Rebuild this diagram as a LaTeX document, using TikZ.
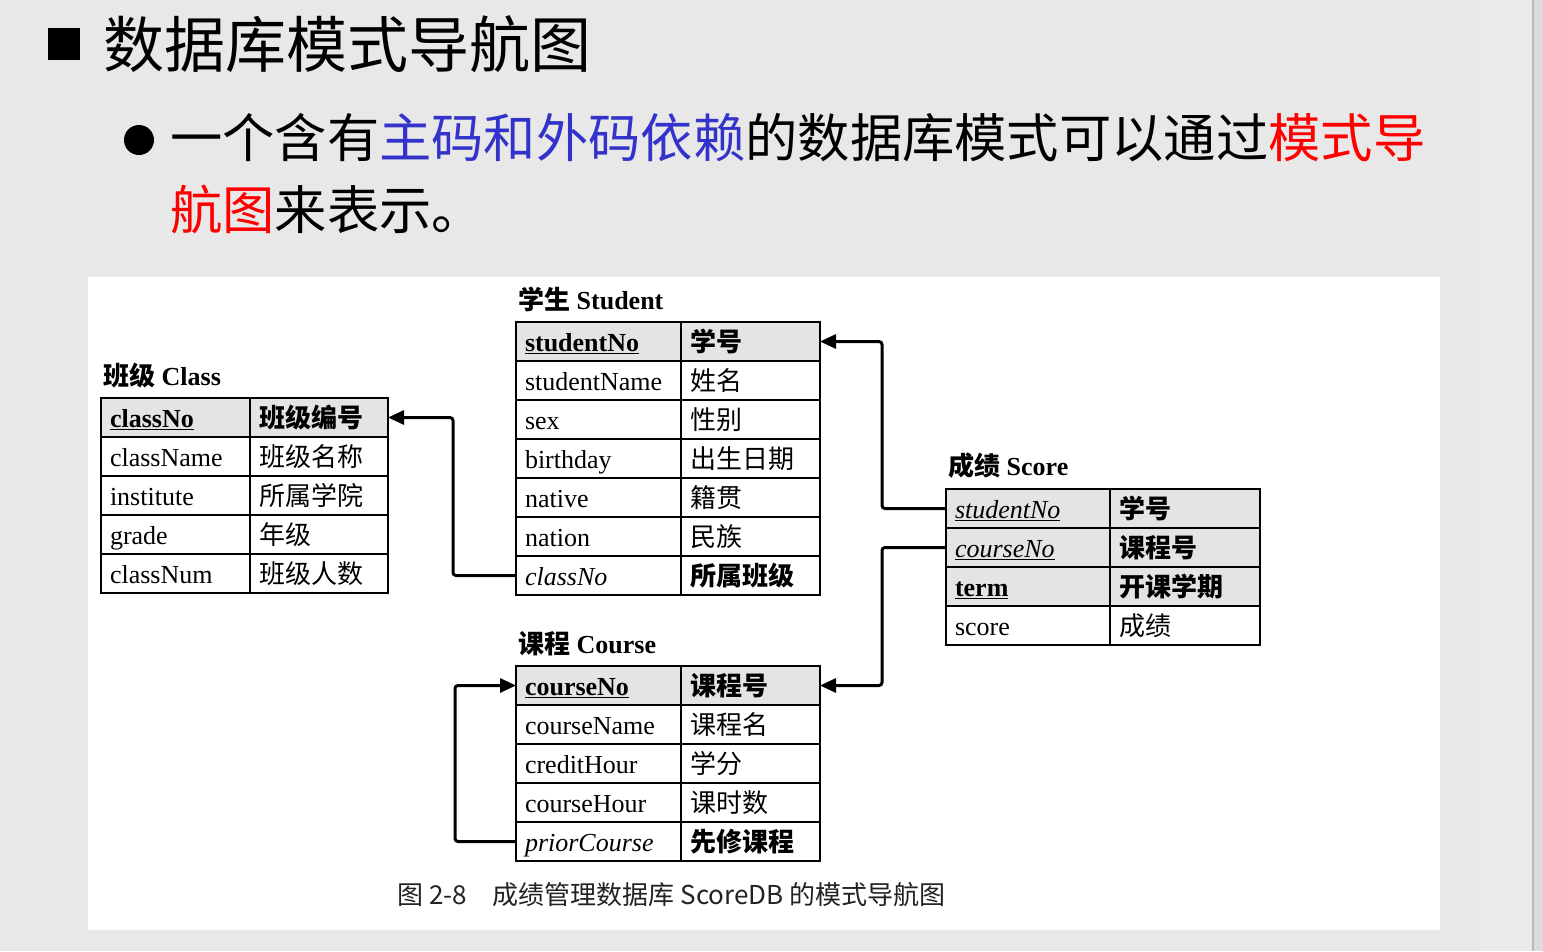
\documentclass[tikz,border=0pt]{standalone}
\usepackage{fontspec}
\setmainfont{Liberation Serif}
\newfontfamily\cjk{Noto Sans CJK SC}[AutoFakeSlant=0.2]
\usetikzlibrary{positioning,arrows.meta}

\definecolor{pagegray}{HTML}{E8E8E8}
\definecolor{stripgray}{HTML}{EBEBEB}
\definecolor{edgegray}{HTML}{DCDCDC}
\definecolor{keyfill}{HTML}{E4E4E4}
\definecolor{keyblue}{HTML}{3333CC}
\definecolor{capgray}{HTML}{222222}

\newcommand{\pk}[1]{\underline{\textbf{#1}}}
\newcommand{\fk}[1]{\textit{#1}}
\newcommand{\pfk}[1]{\underline{\textit{#1}}}
\newcommand{\zh}[1]{{\cjk #1}}
\newcommand{\zhb}[1]{{\cjk\bfseries #1}}
\newcommand{\zhbi}[1]{{\cjk\bfseries\itshape #1}}

\begin{document}
\begin{tikzpicture}[
  x=1pt, y=1pt,
  cell/.style={draw, line width=1.8pt, outer sep=0pt, inner xsep=9pt, inner ysep=0pt,
               minimum height=39, anchor=north west, align=left,
               text height=24pt, text depth=4pt, font=\fontsize{26}{30}\selectfont},
  tbltitle/.style={inner sep=0pt, font=\fontsize{26}{30}\selectfont\bfseries},
  fkline/.style={line width=3pt, rounded corners=3pt, -{Triangle[length=16pt,width=14pt]}}
]
  \useasboundingbox (0,0) rectangle (1543,-951);
  \fill[pagegray] (0,0) rectangle (1543,-951);
  \fill[stripgray] (1480,0) rectangle (1533,-951);
  \fill[edgegray] (1533,0) rectangle (1543,-951);
  \draw[gray!55, line width=2pt] (1533,0) -- (1533,-951);
  \fill[white] (88,-277) rectangle (1440,-930);

  % heading
  \node[fill=black, minimum size=32, inner sep=0pt, anchor=north west] (sq) at (48,-28) {};
  \node[inner sep=0pt, font=\cjk\fontsize{61}{72}\selectfont, right=23pt of sq] (ttl) {数据库模式导航图};
  \node[circle, fill=black, minimum size=30, inner sep=0pt] (dot) at (139,-140) {};
  \node[inner sep=0pt, anchor=north west, align=left, font=\cjk\fontsize{52.3}{72}\selectfont] (bul) at (170,-113)
    {一个含有\textcolor{keyblue}{主码和外码依赖}的数据库模式可以通过\textcolor{red}{模式导}\\\textcolor{red}{航图}来表示。};

  % Class
  \foreach \i/\f/\c/\bg in {1/\pk{classNo}/\zhb{班级编号}/keyfill, 2/className/\zh{班级名称}/white,
      3/institute/\zh{所属学院}/white, 4/grade/\zh{年级}/white, 5/classNum/\zh{班级人数}/white}{
    \node[cell, text width=131, fill=\bg] (cls-\i-l) at (101,{-398-39*(\i-1)}) {\f};
    \node[cell, text width=120, fill=\bg, right=0pt of cls-\i-l] (cls-\i-r) {\c};
  }
  \node[tbltitle, above right=10pt and 2pt of cls-1-l.north west] (clsT) {\zhb{班级} Class};

  % Student
  \foreach \i/\f/\c/\bg in {1/\pk{studentNo}/\zhb{学号}/keyfill, 2/studentName/\zh{姓名}/white,
      3/sex/\zh{性别}/white, 4/birthday/\zh{出生日期}/white, 5/native/\zh{籍贯}/white,
      6/nation/\zh{民族}/white, 7/\fk{classNo}/\zhbi{所属班级}/white}{
    \node[cell, text width=147, fill=\bg] (stu-\i-l) at (516,{-322-39*(\i-1)}) {\f};
    \node[cell, text width=121, fill=\bg, right=0pt of stu-\i-l] (stu-\i-r) {\c};
  }
  \node[tbltitle, above right=10pt and 2pt of stu-1-l.north west] (stuT) {\zhb{学生} Student};

  % Score
  \foreach \i/\f/\c/\bg in {1/\pfk{studentNo}/\zhbi{学号}/keyfill, 2/\pfk{courseNo}/\zhbi{课程号}/keyfill,
      3/\pk{term}/\zhb{开课学期}/keyfill, 4/score/\zh{成绩}/white}{
    \node[cell, text width=146, fill=\bg] (sco-\i-l) at (946,{-489-39*(\i-1)}) {\f};
    \node[cell, text width=132, fill=\bg, right=0pt of sco-\i-l] (sco-\i-r) {\c};
  }
  \node[tbltitle, above right=10pt and 2pt of sco-1-l.north west] (scoT) {\zhb{成绩} Score};

  % Course
  \foreach \i/\f/\c/\bg in {1/\pk{courseNo}/\zhb{课程号}/keyfill, 2/courseName/\zh{课程名}/white,
      3/creditHour/\zh{学分}/white, 4/courseHour/\zh{课时数}/white, 5/\fk{priorCourse}/\zhbi{先修课程}/white}{
    \node[cell, text width=147, fill=\bg] (crs-\i-l) at (516,{-666-39*(\i-1)}) {\f};
    \node[cell, text width=121, fill=\bg, right=0pt of crs-\i-l] (crs-\i-r) {\c};
  }
  \node[tbltitle, above right=10pt and 2pt of crs-1-l.north west] (crsT) {\zhb{课程} Course};

  % foreign keys
  \draw[fkline] (stu-7-l.west) -- ++(-63,0) |- (cls-1-r.east);
  \draw[fkline] (sco-1-l.west) -- ++(-64,0) |- (stu-1-r.east);
  \draw[fkline] (sco-2-l.west) -- ++(-64,0) |- (crs-1-r.east);
  \draw[fkline] (crs-5-l.west) -- ++(-61,0) |- (crs-1-l.west);

  \node[inner sep=0pt, anchor=west, text=capgray, font=\cjk\fontsize{26}{30}\selectfont] (cap) at (397,-895)
    {图 2-8　成绩管理数据库 ScoreDB 的模式导航图};
\end{tikzpicture}
\end{document}
